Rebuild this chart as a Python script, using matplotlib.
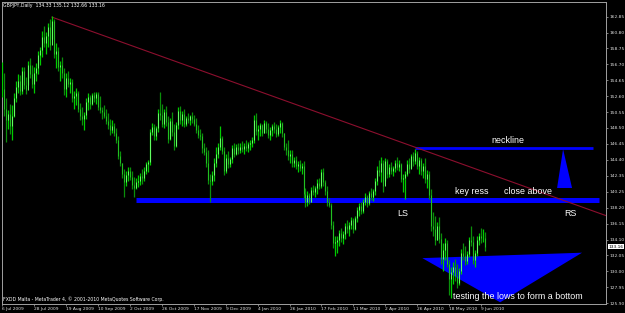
import matplotlib
matplotlib.use("Agg")
import matplotlib.pyplot as plt
import matplotlib.transforms as mtransforms

# GBPJPY daily bars (one value per bar)
highs = [
    157.0, 155.6, 152.3, 150.8, 151.6, 151.5, 153.0, 154.5, 155.5, 155.3,
    156.3, 156.4, 155.1, 157.2, 157.5, 156.6, 156.3, 156.9, 158.4, 159.0,
    161.0, 161.7, 160.9, 162.0, 162.6, 162.9, 162.5, 159.5, 158.9, 157.2,
    157.6, 156.2, 155.6, 155.8, 155.0, 154.8, 153.3, 153.6, 153.3, 151.7,
    151.2, 150.6, 152.4, 153.0, 152.7, 153.0, 153.2, 153.1, 153.2, 152.6,
    151.2, 151.4, 150.9, 150.4, 149.6, 149.5, 149.2, 148.5, 147.5, 145.5,
    144.0, 143.2, 142.9, 143.5, 143.4, 142.9, 142.2, 142.0, 142.4, 142.7,
    143.2, 143.4, 144.1, 144.4, 148.4, 149.2, 149.0, 148.8, 151.0, 153.1,
    151.6, 151.0, 151.3, 150.0, 149.8, 150.6, 149.0, 149.3, 151.2, 151.3,
    150.7, 150.9, 150.1, 150.4, 150.2, 150.5, 150.2, 149.8, 148.9, 148.3,
    147.8, 146.5, 146.0, 145.6, 142.5, 142.9, 144.6, 146.0, 146.5, 148.8,
    147.5, 146.0, 145.1, 145.5, 144.8, 146.3, 146.6, 146.4, 146.5, 146.6,
    146.8, 146.5, 146.9, 146.7, 147.0, 147.3, 150.2, 150.4, 148.9, 149.2,
    149.0, 149.5, 149.4, 149.1, 148.6, 149.0, 149.3, 149.0, 148.9, 149.5,
    149.3, 147.8, 146.6, 146.9, 145.6, 145.6, 144.8, 144.9, 144.2, 144.4,
    144.0, 144.2, 140.8, 140.3, 140.1, 140.9, 141.2, 141.0, 141.9, 142.1,
    143.2, 143.3, 141.8, 141.0, 139.5, 138.8, 136.5, 134.5, 134.6, 135.3,
    135.6, 135.2, 136.2, 136.6, 136.3, 137.0, 136.9, 137.2, 138.3, 138.8,
    139.0, 139.3, 140.1, 139.9, 140.4, 140.8, 140.6, 142.0, 143.6, 144.3,
    144.7, 144.4, 144.6, 144.5, 143.9, 144.1, 143.6, 144.3, 144.7, 144.4,
    144.0, 142.6, 142.9, 144.3, 144.6, 145.2, 145.4, 145.8, 145.5, 144.8,
    144.6, 144.0, 144.6, 143.1, 142.9, 140.6, 137.6, 137.2, 136.3, 137.0,
    134.9, 133.7, 134.3, 134.1, 131.5, 130.6, 131.2, 131.6, 131.0, 130.4,
    132.9, 133.6, 133.2, 132.6, 134.4, 135.9, 134.6, 132.8, 134.6, 135.0,
    135.6, 135.4, 135.12,
]
lows = [
    152.5, 150.0, 146.7, 148.3, 147.7, 146.9, 149.9, 151.8, 153.0, 152.8,
    152.9, 153.5, 152.9, 154.0, 155.0, 153.6, 153.0, 154.5, 155.4, 156.6,
    157.6, 158.9, 158.0, 159.0, 158.5, 160.0, 157.5, 156.2, 155.8, 154.5,
    155.0, 152.8, 152.5, 153.8, 153.0, 151.9, 151.0, 151.5, 150.6, 149.5,
    148.9, 148.2, 149.6, 150.8, 151.0, 151.5, 151.8, 151.6, 150.8, 150.4,
    149.7, 149.8, 149.0, 148.3, 147.6, 147.9, 147.4, 146.6, 144.5, 143.6,
    142.0, 139.6, 141.0, 141.6, 141.8, 140.6, 139.6, 140.6, 140.9, 141.2,
    141.3, 141.6, 142.6, 142.8, 143.7, 147.6, 147.0, 146.9, 148.0, 149.5,
    148.6, 148.5, 148.8, 146.5, 146.9, 147.5, 145.6, 146.0, 148.3, 149.0,
    148.8, 148.6, 148.7, 149.1, 148.9, 149.2, 148.8, 147.8, 147.2, 146.9,
    145.3, 145.0, 143.5, 141.3, 139.0, 141.2, 141.6, 143.4, 144.6, 145.6,
    145.2, 142.4, 142.7, 143.3, 143.4, 144.0, 144.7, 145.0, 145.2, 145.3,
    145.4, 145.2, 145.5, 145.4, 145.6, 146.0, 146.5, 147.6, 147.0, 147.4,
    147.5, 147.8, 147.9, 147.2, 146.9, 147.5, 147.8, 147.3, 147.4, 147.9,
    147.3, 145.6, 145.0, 144.4, 144.0, 143.5, 143.4, 143.2, 142.8, 143.0,
    142.6, 139.5, 138.3, 138.4, 138.7, 138.9, 139.8, 139.6, 140.0, 140.6,
    140.8, 141.0, 139.9, 138.4, 138.3, 135.5, 133.0, 132.0, 132.4, 133.3,
    133.8, 133.5, 134.2, 134.9, 134.6, 135.4, 135.0, 135.3, 136.4, 137.1,
    137.4, 137.5, 138.5, 138.3, 138.6, 139.2, 139.1, 139.9, 141.2, 142.3,
    141.5, 140.2, 141.6, 142.0, 142.2, 142.5, 142.3, 142.8, 143.1, 142.9,
    141.5, 140.2, 139.3, 142.3, 142.7, 143.3, 143.6, 143.9, 143.2, 142.6,
    142.4, 142.1, 141.4, 140.8, 139.3, 135.2, 134.5, 133.4, 134.0, 133.6,
    131.0, 130.1, 131.5, 130.5, 126.9, 126.6, 128.4, 128.8, 127.8, 128.2,
    129.7, 131.5, 130.8, 130.9, 131.8, 133.3, 131.0, 130.6, 132.0, 133.4,
    133.7, 133.8, 132.66,
]
closes = [
    153.5, 151.0, 149.5, 150.3, 148.8, 150.0, 152.4, 153.8, 154.6, 153.3,
    155.8, 154.0, 153.4, 156.6, 155.5, 154.2, 155.6, 156.2, 157.9, 158.5,
    160.2, 159.5, 160.4, 161.5, 159.2, 162.3, 158.0, 158.4, 156.3, 156.6,
    155.6, 153.5, 155.0, 154.2, 154.4, 152.4, 152.6, 153.0, 151.0, 150.0,
    149.6, 150.2, 151.8, 152.5, 151.6, 152.8, 152.4, 152.9, 151.2, 150.8,
    150.6, 150.1, 149.4, 148.9, 148.2, 148.8, 147.9, 147.0, 144.9, 144.0,
    142.6, 141.5, 142.4, 143.0, 142.2, 141.2, 140.8, 141.5, 141.6, 142.3,
    142.0, 143.0, 143.8, 144.1, 148.0, 148.6, 147.4, 148.5, 150.4, 150.2,
    149.0, 150.6, 149.3, 147.1, 149.4, 148.0, 146.2, 148.9, 150.7, 149.5,
    150.3, 149.0, 149.8, 149.5, 150.0, 149.6, 149.0, 148.2, 147.6, 147.4,
    145.9, 145.4, 144.0, 141.8, 141.6, 142.4, 144.0, 145.2, 146.0, 147.2,
    145.5, 143.0, 144.6, 143.8, 144.5, 145.9, 145.1, 146.0, 145.6, 146.1,
    145.8, 146.2, 145.9, 146.4, 146.6, 146.9, 149.5, 148.1, 148.3, 148.9,
    147.9, 149.2, 148.3, 147.6, 148.2, 148.7, 148.4, 147.7, 148.6, 149.1,
    147.8, 146.0, 145.6, 144.9, 145.2, 144.0, 144.4, 143.6, 143.9, 143.3,
    143.6, 140.0, 138.9, 139.8, 139.0, 140.5, 140.2, 140.7, 141.4, 141.0,
    142.8, 141.5, 140.4, 138.9, 138.6, 136.0, 133.6, 133.8, 134.0, 134.9,
    134.3, 134.8, 135.8, 135.4, 136.0, 136.6, 135.5, 136.9, 137.9, 138.4,
    137.8, 139.0, 139.6, 138.8, 140.1, 139.6, 140.3, 141.6, 143.1, 142.8,
    144.0, 141.0, 144.2, 142.6, 143.5, 142.9, 143.3, 144.0, 143.5, 143.9,
    141.9, 142.0, 142.5, 143.9, 143.2, 144.9, 144.2, 145.3, 143.6, 144.3,
    142.9, 143.6, 141.9, 142.6, 139.8, 135.8, 135.5, 134.0, 135.9, 134.2,
    131.6, 132.8, 133.7, 131.0, 129.0, 129.9, 130.6, 129.4, 128.5, 130.0,
    132.4, 132.0, 131.3, 132.2, 134.0, 133.8, 131.5, 132.4, 134.1, 134.6,
    134.3, 134.33, 133.16,
]

date_labels = ["6 Jul 2009", "28 Jul 2009", "19 Aug 2009", "10 Sep 2009", "2 Oct 2009",
               "26 Oct 2009", "17 Nov 2009", "9 Dec 2009", "4 Jan 2010", "26 Jan 2010",
               "17 Feb 2010", "11 Mar 2010", "2 Apr 2010", "26 Apr 2010", "18 May 2010",
               "9 Jun 2010"]
bars_per_label = 16
price_ticks = [162.85, 160.80, 158.75, 156.70, 154.65, 152.60, 150.55, 148.50, 146.45,
               144.40, 142.35, 140.25, 138.20, 136.15, 134.10, 132.05, 130.00, 127.95, 125.90]

# drawn objects (bar index, price)
trend_pts = [(25, 162.8), (207, 146.0)]
key_ress = (67, 299, 139.26)
neckline = (207, 296, 145.97)
up_arrow = [(281, 145.76), (278, 140.75), (285.5, 140.75)]
low_wedge = [(210.5, 131.7), (290.5, 132.4), (249.5, 126.0)]
notes = [("neckline", 253.5, 146.94), ("key ress", 235.5, 140.36),
         ("close above", 263.5, 140.36), ("LS", 200.5, 137.52), ("RS", 284.5, 137.52),
         ("testing the lows to form a bottom", 258.5, 126.81)]

W, H = 625, 313
fig = plt.figure(figsize=(W / 100, H / 100), dpi=100, facecolor="black")
ax = fig.add_axes([2 / W, 9 / H, 604 / W, 302 / H], facecolor="black")

n = len(closes)
xs = list(range(n))
opens = [closes[0]] + closes[:-1]
up = [c >= o for o, c in zip(opens, closes)]

# blue objects behind the bars
ax.fill([p[0] for p in low_wedge], [p[1] for p in low_wedge], color="#0000ff", lw=0, zorder=1)
ax.fill([p[0] for p in up_arrow], [p[1] for p in up_arrow], color="#0000ff", lw=0, zorder=1)
ax.plot([key_ress[0], key_ress[1]], [key_ress[2]] * 2, color="#0000ff", lw=3.6,
        solid_capstyle="butt", zorder=1)
ax.plot([neckline[0], neckline[1]], [neckline[2]] * 2, color="#0000ff", lw=2.0,
        solid_capstyle="butt", zorder=1)

# trend line extended to the right edge
(x1, y1), (x2, y2) = trend_pts
slope = (y2 - y1) / (x2 - x1)
ax.plot([x1, 320], [y1, y1 + slope * (320 - x1)], color="#8c0f2e", lw=0.8, zorder=2)

# OHLC bars
hl_col = ["#00cc00" if u else "#0a8f0a" for u in up]
oc_col = ["#66ff66" if u else "#22c222" for u in up]
ax.vlines(xs, lows, highs, colors=hl_col, lw=0.9, zorder=3)
ax.vlines(xs, [min(o, c) for o, c in zip(opens, closes)],
          [max(o, c) for o, c in zip(opens, closes)], colors=oc_col, lw=0.7, zorder=4)

for txt, x, y in notes:
    ax.text(x, y, txt, color="white", fontsize=6.4, family="Liberation Sans",
            ha="center", va="center", zorder=5)

ax.set_xlim(0.5, 302.5)
ax.set_ylim(125.78, 164.75)

ax.yaxis.tick_right()
ax.set_yticks(price_ticks)
ax.set_yticklabels([f"{v:.2f}" for v in price_ticks])
ax.set_xticks([i * bars_per_label for i in range(len(date_labels))])
ax.set_xticklabels(date_labels)
for lab in ax.get_xticklabels():
    lab.set_ha("left")
ax.tick_params(colors="#b0b0b0", length=1.5, width=0.5, labelsize=3.2, pad=1,
               labelcolor="#e0e0e0")
for s in ax.spines.values():
    s.set_color("#a0a0a0")
    s.set_linewidth(0.7)

# current price marker on the price scale
tr = mtransforms.blended_transform_factory(ax.transAxes, ax.transData)
ax.text(1.004, closes[-1], f"{closes[-1]:.2f}", transform=tr, fontsize=3.2, color="black",
        va="center", ha="left", zorder=6, clip_on=False,
        bbox=dict(boxstyle="square,pad=0.15", fc="white", ec="white", lw=0))

ax.text(0.002, 0.99, "GBPJPY,Daily  134.33 135.12 132.66 133.16", transform=ax.transAxes,
        color="white", fontsize=3.3, va="center", ha="left")
ax.text(0.002, 0.017, "FXDD Malta - MetaTrader 4, \u00a9 2001-2010 MetaQuotes Software Corp.",
        transform=ax.transAxes, color="white", fontsize=3.3, va="center", ha="left")

fig.savefig("out.png", dpi=100, facecolor="black")
